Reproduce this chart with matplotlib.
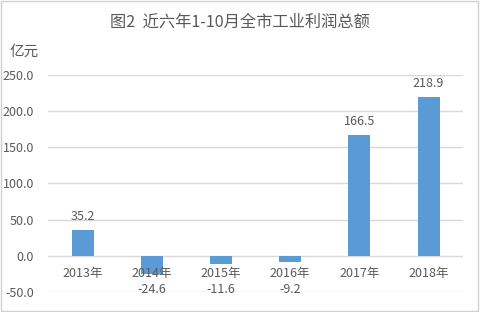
import matplotlib
matplotlib.use("Agg")
import matplotlib.pyplot as plt
from matplotlib.patches import Rectangle

plt.rcParams['font.family'] = ['Noto Sans CJK SC', 'DejaVu Sans']

years = ["2013年", "2014年", "2015年", "2016年", "2017年", "2018年"]
profits = [35.2, -24.6, -11.6, -9.2, 166.5, 218.9]
y_ticks = [-50, 0, 50, 100, 150, 200, 250]

text_color = "#595959"
bar_color = "#5B9BD5"
grid_color = "#D9D9D9"

fig = plt.figure(figsize=(4.8, 3.12), dpi=100)
fig.patches.append(Rectangle((0.002, 0.003), 0.994, 0.994, transform=fig.transFigure,
                             fill=False, edgecolor="#D0D0D0", linewidth=1.0))

ax = fig.add_axes([0.1, 0.064, 0.865, 0.696])
x = list(range(len(years)))
ax.bar(x, profits, width=0.32, color=bar_color, zorder=3)

ax.set_xlim(-0.5, len(years) - 0.5)
ax.set_ylim(-50, 250)
ax.set_yticks(y_ticks)
ax.set_yticklabels([f"{v:.1f}" for v in y_ticks], color=text_color, fontsize=9)
ax.grid(axis="y", color=grid_color, linewidth=1.0, zorder=0)
ax.tick_params(axis="y", length=0, pad=10)
for s in ["left", "right", "top", "bottom"]:
    ax.spines[s].set_visible(False)
ax.set_xticks([])

# category labels sit just under the zero line, drawn above the bars
for xi, name in zip(x, years):
    ax.annotate(name, (xi, 0), xytext=(0, -12.5), textcoords="offset points",
                ha="center", va="center", fontsize=9, color=text_color, zorder=5)

for xi, v in zip(x, profits):
    if v >= 0:
        ax.annotate(f"{v:.1f}", (xi, v), xytext=(0, 5), textcoords="offset points",
                    ha="center", va="bottom", fontsize=9, color=text_color, zorder=5)
    else:
        ax.annotate(f"{v:.1f}", (xi, 0), xytext=(0, -24.5), textcoords="offset points",
                    ha="center", va="center", fontsize=9, color=text_color, zorder=5)

fig.text(0.5, 0.928, "图2  近六年1-10月全市工业利润总额", ha="center", va="center",
         fontsize=11.7, color=text_color)
fig.text(0.05, 0.835, "亿元", ha="center", va="center", fontsize=10.5, color=text_color)

fig.savefig("out.png", dpi=100)
